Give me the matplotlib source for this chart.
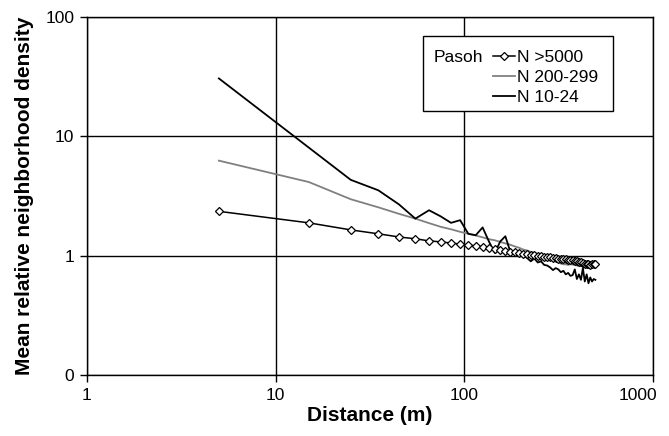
import matplotlib
matplotlib.use("Agg")
import matplotlib.pyplot as plt
import matplotlib.transforms as mtransforms
from matplotlib.patches import Rectangle

plt.rcParams['font.family'] = ['Liberation Sans', 'DejaVu Sans']

# distance bins (m)
dist = [5, 15, 25, 35, 45, 55, 65, 75, 85, 95,
        105, 115, 125, 135, 145, 155, 165, 175, 185, 195,
        205, 215, 225, 235, 245, 255, 265, 275, 285, 295,
        305, 315, 325, 335, 345, 355, 365, 375, 385, 395,
        405, 415, 425, 435, 445, 455, 465, 475, 485, 495]

n_gt5000 = [2.36, 1.89, 1.65, 1.53, 1.44, 1.39, 1.335, 1.31, 1.28, 1.255,
            1.235, 1.21, 1.19, 1.17, 1.14, 1.12, 1.10, 1.08, 1.07, 1.05,
            1.04, 1.03, 1.02, 1.01, 0.99, 0.99, 0.98, 0.97, 0.97, 0.96,
            0.96, 0.95, 0.95, 0.94, 0.94, 0.93, 0.92, 0.92, 0.91, 0.90,
            0.89, 0.88, 0.87, 0.86, 0.86, 0.85, 0.84, 0.85, 0.86, 0.86]

n_200_299 = [6.27, 4.15, 2.98, 2.55, 2.25, 2.05, 1.88, 1.75, 1.67, 1.59,
             1.53, 1.48, 1.43, 1.38, 1.35, 1.31, 1.27, 1.24, 1.20, 1.17,
             1.13, 1.11, 1.08, 1.06, 1.04, 1.01, 0.99, 0.97, 0.95, 0.93,
             0.91, 0.89, 0.86, 0.85, 0.85, 0.84, 0.85, 0.845, 0.84, 0.83,
             0.82, 0.82, 0.81, 0.80, 0.80, 0.80, 0.80, 0.81, 0.83, 0.845]

dist_small = [5, 25, 35, 45, 55, 65, 75, 85, 95,
              105, 115, 125, 135, 145, 155, 165, 175, 185, 195,
              205, 215, 225, 235, 245, 255, 265, 275, 285, 295,
              305, 315, 325, 335, 345, 355, 365, 375, 385, 395,
              405, 415, 425, 435, 445, 455, 465, 475, 485, 495]
n_10_24 = [30.6, 4.33, 3.54, 2.7, 2.05, 2.41, 2.14, 1.89, 1.99,
           1.53, 1.49, 1.73, 1.32, 1.06, 1.32, 1.46, 1.09, 1.05, 1.0,
           1.02, 0.96, 0.90, 0.95, 0.88, 0.90, 0.84, 0.83, 0.80, 0.76,
           0.79, 0.77, 0.73, 0.75, 0.70, 0.72, 0.68, 0.69, 0.77, 0.64,
           0.70, 0.63, 0.79, 0.61, 0.70, 0.59, 0.66, 0.61, 0.64, 0.63]

labels = ['N >5000', 'N 200-299', 'N 10-24']
x_ticks = [1, 10, 100, 1000]
x_ticklabels = ['1', '10', '100', '1000']
y_ticks = [0.1, 1, 10, 100]
y_ticklabels = ['0', '1', '10', '100']

fig = plt.figure(figsize=(6.69, 4.36), dpi=100)
ax = fig.add_axes([87/669, 1 - 375.3/436, 566/669, 358.3/436])

ax.set_xscale('log')
ax.set_yscale('log')
ax.set_xlim(1, 1000)
ax.set_ylim(0.1, 100)

l1, = ax.plot(dist, n_gt5000, color='black', lw=1.1, marker='D', ms=4,
              mfc='white', mec='black', mew=0.9, zorder=4)
l2, = ax.plot(dist, n_200_299, color='#808080', lw=1.3, zorder=3)
l3, = ax.plot(dist_small, n_10_24, color='black', lw=1.3, zorder=3)

ax.set_xticks(x_ticks)
ax.set_xticklabels(x_ticklabels)
ax.set_yticks(y_ticks)
ax.set_yticklabels(y_ticklabels)
ax.minorticks_off()
ax.tick_params(axis='both', which='major', direction='out', length=5,
               width=1, labelsize=12.5, colors='black', pad=4)
ax.grid(True, which='major', color='black', lw=1)
for s in ax.spines.values():
    s.set_color('black')
    s.set_linewidth(1)

# keep the last x tick label inside the figure (shifted left as in the original)
last = ax.get_xticklabels()[-1]
last.set_transform(last.get_transform() +
                   mtransforms.ScaledTranslation(-15/100, 0, fig.dpi_scale_trans))

ax.set_xlabel('Distance (m)', fontsize=15, fontweight='bold', labelpad=2)
ax.set_ylabel('Mean relative neighborhood density', fontsize=15,
              fontweight='bold', labelpad=8)

# legend box
box = Rectangle((0.593, 0.738), 0.337, 0.210, transform=ax.transAxes,
                facecolor='white', edgecolor='black', lw=1, zorder=6)
ax.add_patch(box)
ax.text(0.612, 0.887, 'Pasoh', transform=ax.transAxes, fontsize=12.5,
        va='center', ha='left', zorder=7)
leg = ax.legend([l1, l2, l3], labels, loc='upper left',
                bbox_to_anchor=(0.717, 0.908), frameon=False, fontsize=12.5,
                handlelength=1.3, handletextpad=0.1, labelspacing=0.29,
                borderpad=0, borderaxespad=0)
leg.set_zorder(8)

fig.savefig('out.png', dpi=100)
